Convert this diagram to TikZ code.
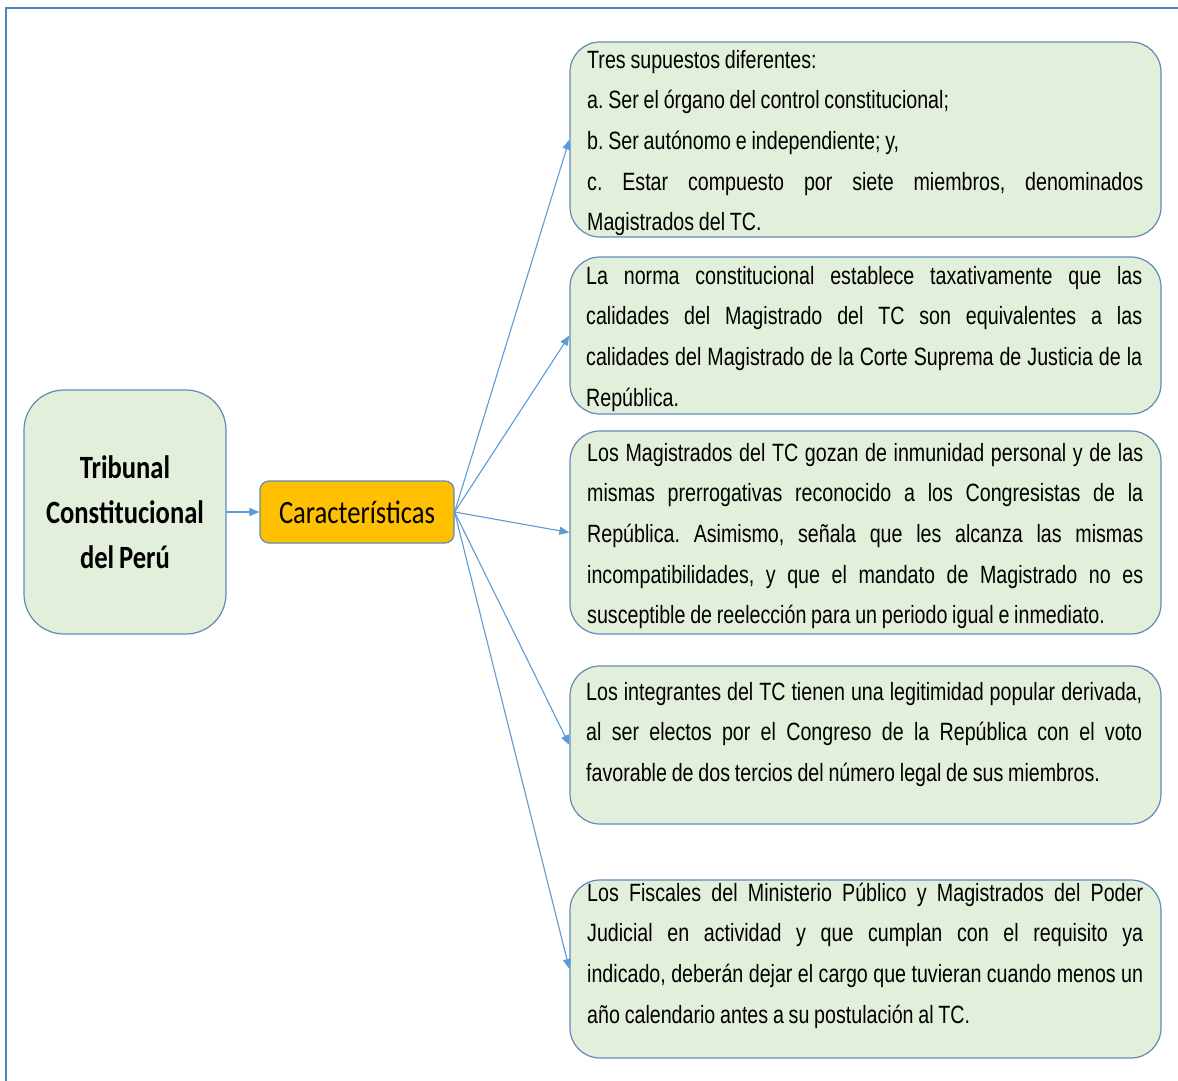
\documentclass[tikz,border=0pt]{standalone}
\usepackage{fontspec}
\setmainfont{Liberation Sans}
\newfontfamily\arialn{Liberation Sans}[FakeStretch=0.786,WordSpace=0.875]
\newfontfamily\calib{Carlito}[FakeStretch=0.818,WordSpace=0.818]
\usetikzlibrary{arrows.meta}
\definecolor{boxfill}{HTML}{E2EFDA}
\definecolor{boxline}{HTML}{6289BA}
\definecolor{arrowc}{HTML}{5B9BD5}
\definecolor{framec}{HTML}{4F81BD}
\definecolor{orangec}{HTML}{FFC000}
\frenchspacing
\newdimen\txtw \txtw=556bp
\newcommand\jl[1]{\par\hbox to \txtw{\vrule height 20bp depth 6bp width 0pt\relax #1}}
\newcommand\lastl[1]{\par\hbox{\vrule height 20bp depth 6bp width 0pt\relax #1}}
\newcommand\txtblock[1]{\parbox[t]{\txtw}{\fontsize{25bp}{40.6bp}\arialn\selectfont\frenchspacing #1}}
\begin{document}
\begin{tikzpicture}[x=1bp,y=-1bp,
  greenbox/.style={draw=boxline, line width=1.2bp, fill=boxfill, rounded corners=30bp,
    minimum width=591bp, inner sep=0pt},
  txt/.style={anchor=north west, inner sep=0pt},
  conn/.style={draw=arrowc, line width=1.1bp, -{Triangle[length=10bp,width=8bp]}}
]
\useasboundingbox (0,0) rectangle (1178,1081);
% frame
\draw[framec, line width=1.5bp] (6,1081) -- (6,8) -- (1178,8);

% left nodes
\node[draw=boxline, line width=1.2bp, fill=boxfill, rounded corners=40bp,
  minimum width=202bp, minimum height=244bp, align=center,
  font=\calib\bfseries\fontsize{32.5bp}{45bp}\selectfont] (tcp) at (125,512)
  {Tribunal\\Constitucional\\del Perú};
\node[draw=boxline, line width=1.2bp, fill=orangec, rounded corners=9bp,
  minimum width=194bp, minimum height=62bp, inner sep=0pt,
  font=\calib\fontsize{32.5bp}{36bp}\selectfont] (car) at (357,512) {Características};

% right boxes
\node[greenbox, minimum height=195bp] (b1) at (865.5,139.5) {};
\node[greenbox, minimum height=157bp] (b2) at (865.5,335.5) {};
\node[greenbox, minimum height=203bp] (b3) at (865.5,532.5) {};
\node[greenbox, minimum height=158bp] (b4) at (865.5,745) {};
\node[greenbox, minimum height=178bp] (b5) at (865.5,969) {};

% texts
\node[txt] (t1) at (587,48) {\txtblock{%
\lastl{Tres supuestos diferentes:}
\lastl{a. Ser el órgano del control constitucional;}
\lastl{b. Ser autónomo e independiente; y,}
\jl{c. Estar compuesto por siete miembros, denominados}
\lastl{Magistrados del TC.}}};

\node[txt] (t2) at (586,264) {\txtblock{%
\jl{La norma constitucional establece taxativamente que las}
\jl{calidades del Magistrado del TC son equivalentes a las}
\jl{calidades del Magistrado de la Corte Suprema de Justicia de la}
\lastl{República.}}};

\node[txt] (t3) at (587,441) {\txtblock{%
\jl{Los Magistrados del TC gozan de inmunidad personal y de las}
\jl{mismas prerrogativas reconocido a los Congresistas de la}
\jl{República. Asimismo, señala que les alcanza las mismas}
\jl{incompatibilidades, y que el mandato de Magistrado no es}
\lastl{susceptible de reelección para un periodo igual e inmediato.}}};

\node[txt] (t4) at (586,680) {\txtblock{%
\jl{Los integrantes del TC tienen una legitimidad popular derivada,}
\jl{al ser electos por el Congreso de la República con el voto}
\lastl{favorable de dos tercios del número legal de sus miembros.}}};

\node[txt] (t5) at (587,881) {\txtblock{%
\jl{Los Fiscales del Ministerio Público y Magistrados del Poder}
\jl{Judicial en actividad y que cumplan con el requisito ya}
\jl{indicado, deberán dejar el cargo que tuvieran cuando menos un}
\lastl{año calendario antes a su postulación al TC.}}};

% connectors
\draw[conn] (tcp.east) -- (car.west);
\draw[conn] (car.east) -- (b1.west);
\draw[conn] (car.east) -- (b2.west);
\draw[conn] (car.east) -- (b3.west);
\draw[conn] (car.east) -- (b4.west);
\draw[conn] (car.east) -- (b5.west);
\end{tikzpicture}
\end{document}
